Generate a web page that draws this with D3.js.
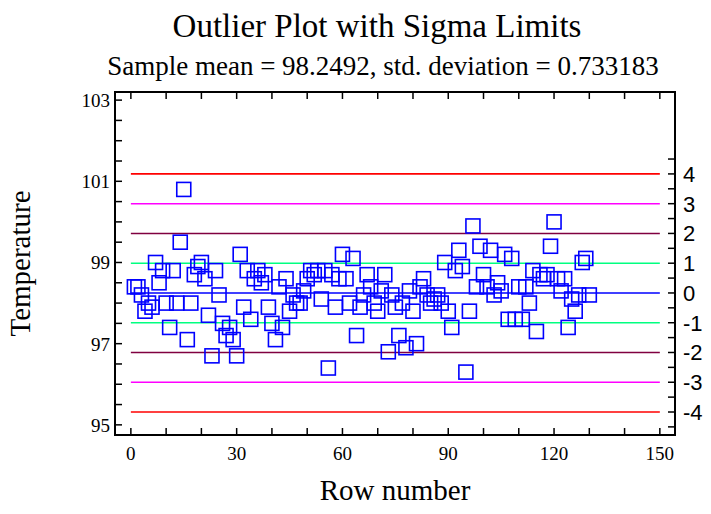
<!DOCTYPE html>
<html>
<head>
<meta charset="utf-8">
<script src="https://cdn.jsdelivr.net/npm/d3@7"></script>
<style>
body { margin: 0; background: #fff; }
</style>
</head>
<body>
<svg id="chart" width="711" height="514"></svg>
<script>
const temps = [98.4, 98.4, 98.2, 97.8, 98.0, 97.9, 99.0, 98.5, 98.8, 98.0,
  97.4, 98.8, 98.0, 99.5, 100.8, 97.1, 98.0, 98.7, 98.9, 99.0,
  98.6, 97.7, 96.7, 98.8, 98.2, 97.5, 97.2, 97.4, 97.1, 96.7,
  99.2, 97.9, 98.8, 97.6, 98.6, 98.8, 98.5, 98.7, 97.9, 97.5,
  97.1, 98.4, 97.4, 98.6, 97.8, 98.2, 98.0, 98.0, 98.3, 98.6,
  98.8, 98.7, 98.8, 98.1, 98.8, 96.4, 98.7, 97.9, 98.6, 99.2,
  98.6, 98.0, 99.1, 97.2, 97.9, 98.2, 98.7, 98.4, 98.0, 97.8,
  98.3, 98.7, 96.8, 98.2, 97.9, 97.2, 98.0, 96.9, 98.3, 97.8,
  97.0, 98.4, 98.6, 98.2, 98.0, 98.1, 98.2, 98.0, 99.0, 97.8,
  97.4, 98.8, 99.3, 98.9, 96.3, 97.8, 99.9, 98.4, 99.4, 98.7,
  98.4, 99.3, 98.2, 98.5, 98.3, 99.2, 97.6, 99.1, 97.6, 98.4,
  97.6, 98.4, 98.0, 98.8, 97.3, 98.7, 98.6, 98.7, 99.4, 100.0,
  98.6, 98.3, 98.6, 97.4, 98.1, 97.8, 98.2, 99.0, 99.1, 98.2];
const mean = 98.2492, sd = 0.733183;
const sigmas = [-4, -3, -2, -1, 0, 1, 2, 3, 4];
const sigmaColors = {0: "#0000ff", 1: "#00ff80", 2: "#800040", 3: "#ff00ff", 4: "#ff0000"};
const xTicks = [0, 30, 60, 90, 120, 150];
const yTicks = [95, 97, 99, 101, 103];

const svg = d3.select("#chart");
const L = 115, R = 675, T = 92, B = 435;
const x = d3.scaleLinear().domain([-4.5, 154.3]).range([L, R]);
const y = d3.scaleLinear().domain([94.75, 103.2]).range([B, T]);
const serif = "'Liberation Serif', 'Times New Roman', serif";

svg.append("text").attr("x", 377).attr("y", 37).attr("text-anchor", "middle")
  .style("font-family", serif).style("font-size", "33px").text("Outlier Plot with Sigma Limits");
svg.append("text").attr("x", 383).attr("y", 75).attr("text-anchor", "middle")
  .style("font-family", serif).style("font-size", "27px")
  .text("Sample mean = 98.2492, std. deviation = 0.733183");

// sigma lines
sigmas.forEach(k => {
  svg.append("line").attr("x1", x(0)).attr("x2", x(150))
    .attr("y1", y(mean + k * sd)).attr("y2", y(mean + k * sd))
    .attr("stroke", sigmaColors[Math.abs(k)]).attr("stroke-width", 1.6);
});

// points
svg.append("g").selectAll("rect").data(temps).enter().append("rect")
  .attr("x", (d, i) => x(i + 1) - 7).attr("y", d => y(d) - 7)
  .attr("width", 14).attr("height", 14)
  .attr("fill", "none").attr("stroke", "#0000ff").attr("stroke-width", 1.6);

// frame
svg.append("rect").attr("x", L).attr("y", T).attr("width", R - L).attr("height", B - T)
  .attr("fill", "none").attr("stroke", "#000").attr("stroke-width", 2);

const tk = 7;
d3.range(95, 103.01, 0.5).forEach(v => {
  svg.append("line").attr("x1", L).attr("x2", L + tk)
    .attr("y1", y(v)).attr("y2", y(v)).attr("stroke", "#000").attr("stroke-width", 1.5);
});
yTicks.forEach(v => {
  svg.append("text").attr("x", L - 5).attr("y", y(v) + 7).attr("text-anchor", "end")
    .style("font-family", serif).style("font-size", "19px").text(v);
});
d3.range(0, 150.1, 10).forEach(v => {
  svg.append("line").attr("x1", x(v)).attr("x2", x(v)).attr("y1", B).attr("y2", B - tk)
    .attr("stroke", "#000").attr("stroke-width", 1.5);
  svg.append("line").attr("x1", x(v)).attr("x2", x(v)).attr("y1", T).attr("y2", T + tk)
    .attr("stroke", "#000").attr("stroke-width", 1.5);
});
xTicks.forEach(v => {
  svg.append("text").attr("x", x(v)).attr("y", B + 25).attr("text-anchor", "middle")
    .style("font-family", serif).style("font-size", "19px").text(v);
});

// right sigma axis
d3.range(-4.5, 4.51, 0.5).forEach(k => {
  svg.append("line").attr("x1", R).attr("x2", R - tk)
    .attr("y1", y(mean + k * sd)).attr("y2", y(mean + k * sd))
    .attr("stroke", "#000").attr("stroke-width", 1.5);
});
sigmas.forEach(k => {
  svg.append("text").attr("x", 683).attr("y", y(mean + k * sd) + 8)
    .style("font-family", "'Liberation Sans', Arial, sans-serif").style("font-size", "22px").text(k);
});

svg.append("text").attr("transform", "translate(30," + ((T + B) / 2) + ") rotate(-90)")
  .attr("text-anchor", "middle").style("font-family", serif).style("font-size", "29px").text("Temperature");
svg.append("text").attr("x", (L + R) / 2).attr("y", 500).attr("text-anchor", "middle")
  .style("font-family", serif).style("font-size", "29px").text("Row number");
</script>
</body>
</html>
